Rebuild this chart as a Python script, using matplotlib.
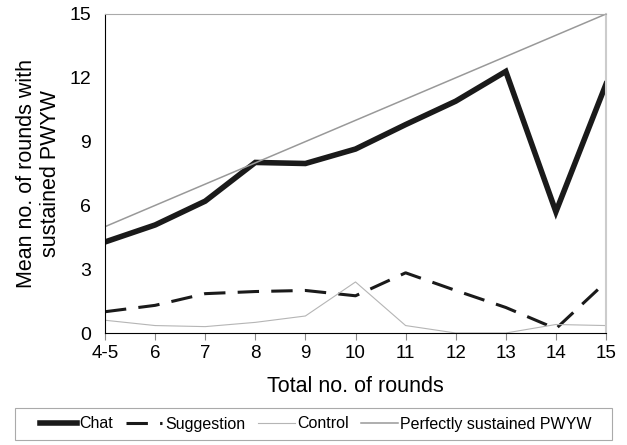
import numpy as np
import matplotlib.pyplot as plt
from matplotlib.patches import Rectangle

rounds = ['4-5', '6', '7', '8', '9', '10', '11', '12', '13', '14', '15']
chat = [4.28, 5.08, 6.2, 8.02, 7.97, 8.65, 9.8, 10.9, 12.3, 5.7, 11.7]
suggestion = [1.0, 1.3, 1.85, 1.95, 2.0, 1.75, 2.83, 2.0, 1.2, 0.2, 2.4]
control = [0.6, 0.35, 0.3, 0.5, 0.8, 2.4, 0.35, 0.0, 0.0, 0.4, 0.35]
perfect = [5, 6, 7, 8, 9, 10, 11, 12, 13, 14, 15]

plt.rcParams['font.family'] = ['Liberation Sans', 'DejaVu Sans']

fig = plt.figure(figsize=(6.27, 4.45), dpi=100)
ax = fig.add_axes([105/627, 1-333/445, (606-105)/627, (333-14)/445])

x = np.arange(len(rounds))
ax.plot(x, chat, color='#1a1a1a', lw=4, label='Chat', solid_joinstyle='miter')
ax.plot(x, suggestion, color='#1a1a1a', lw=2.2, dashes=(7, 4), label='Suggestion')
ax.plot(x, control, color='#b5b5b5', lw=0.8, label='Control')
ax.plot(x, perfect, color='#999999', lw=1.1, label='Perfectly sustained PWYW')

ax.set_xlim(0, len(rounds) - 1)
ax.set_ylim(0, 15)
ax.set_xticks(x)
ax.set_xticklabels(rounds)
ax.set_yticks([0, 3, 6, 9, 12, 15])
ax.tick_params(axis='y', length=0, labelsize=14, pad=10)
ax.tick_params(axis='x', length=5, color='#888888', labelsize=13.5, pad=4)
ax.spines['left'].set_color('black')
ax.spines['bottom'].set_color('black')
ax.spines['top'].set_color('#aaaaaa')
ax.spines['right'].set_color('#cccccc')
ax.spines['right'].set_linewidth(1.5)

ax.set_xlabel('Total no. of rounds', fontsize=15.5, labelpad=10)
ax.set_ylabel('Mean no. of rounds with\nsustained PWYW', fontsize=15.5, labelpad=6)

# legend box
fig.patches.append(Rectangle((15/627, 1-440/445), (612-15)/627, 32/445,
                             transform=fig.transFigure, fill=False,
                             edgecolor='#aaaaaa', lw=0.8))
leg = fig.legend(loc='center', bbox_to_anchor=(316/627, 1-424/445),
                 ncol=4, frameon=False, fontsize=11.5,
                 handlelength=2.3, handletextpad=0.15, borderaxespad=0,
                 columnspacing=0.8)

fig.savefig('out.png', dpi=100)
